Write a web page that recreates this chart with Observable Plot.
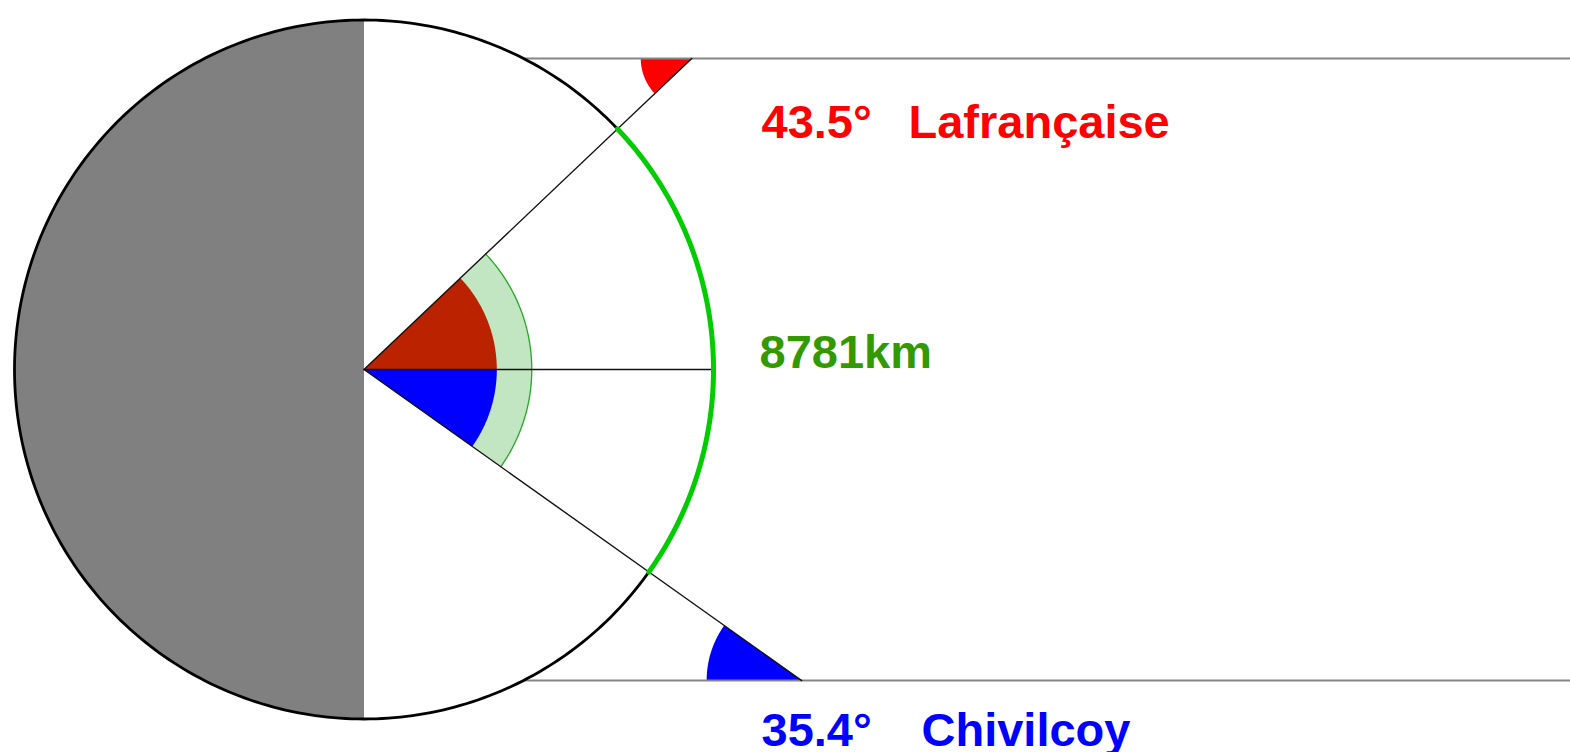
<!DOCTYPE html>
<html>
<head>
<meta charset="utf-8">
<script src="https://cdn.jsdelivr.net/npm/d3@7"></script>
<script src="https://cdn.jsdelivr.net/npm/@observablehq/plot@0.6"></script>
<style>
  html, body { margin: 0; padding: 0; background: #ffffff; }
  #chart svg { display: block; }
</style>
</head>
<body>
<div id="chart"></div>
<script>
// ---------- data ----------
const cities = ["Lafrançaise", "Chivilcoy"];
const latitudes = [43.5, 35.4];          // degrees
const hemispheres = [1, -1];             // +1 north, -1 south
const cityColors = ["#ff0000", "#0000ff"];
const wedgeColors = ["#bb2200", "#0000ff"];
const distanceKm = [8781];
const distanceColor = "#339900";

// ---------- layout ----------
const W = 1570, H = 752;
const R = 349.5, cx = 363.5, cy = 369;    // pixel centre / radius of the globe
const px = v => (v - cx) / R;             // pixel -> unit x
const py = v => (cy - v) / R;             // pixel -> unit y
const lineY = 0.89;                       // height of the parallel rays (unit)
const innerR = 0.38, ringR = 0.48;        // centre wedge + ring radii
const vertexR = [0.146, 0.272];           // small wedge radii at ray vertices
const degX = [761, 761], nameX = [908, 921];
const labelBase = [137, 745], distBase = 367, distX = 759;

const rad = d => d * Math.PI / 180;
function arc(x0, y0, r, a0, a1, n = 120) {
  const pts = [];
  for (let i = 0; i <= n; i++) {
    const a = rad(a0 + (a1 - a0) * i / n);
    pts.push({x: x0 + r * Math.cos(a), y: y0 + r * Math.sin(a)});
  }
  return pts;
}
function sector(x0, y0, r, a0, a1) {
  return [{x: x0, y: y0}, ...arc(x0, y0, r, a0, a1), {x: x0, y: y0}];
}

const signed = latitudes.map((l, i) => l * hemispheres[i]);
const vertices = signed.map((a, i) => ({
  x: lineY / Math.tan(rad(latitudes[i])),
  y: hemispheres[i] * lineY
}));
const xEdge = Math.sqrt(1 - lineY * lineY);
const xMax = px(W);

const grayHalf = [...arc(0, 0, 1, 90, 270), {x: 0, y: 1}];
const circle = arc(0, 0, 1, 0, 360, 360);
const ring = sector(0, 0, ringR, signed[1], signed[0]);
const ringOuter = arc(0, 0, ringR, signed[1], signed[0]);
const greenArc = arc(0, 0, 1, signed[1], signed[0]);

const marks = [];
// globe
marks.push(Plot.line(grayHalf, {x: "x", y: "y", fill: "#808080", stroke: "none", curve: "linear"}));
// ring + wedges at centre
marks.push(Plot.line(ring, {x: "x", y: "y", fill: "#c2e5c2", stroke: "none"}));
marks.push(Plot.line(ringOuter, {x: "x", y: "y", stroke: "#22aa22", strokeWidth: 1.3}));
signed.forEach((a, i) => {
  const s = i === 0 ? sector(0, 0, innerR, 0, a) : sector(0, 0, innerR, a, 0);
  marks.push(Plot.line(s, {x: "x", y: "y", fill: wedgeColors[i], stroke: "none"}));
});
// small wedges at ray vertices
vertices.forEach((v, i) => {
  const a0 = hemispheres[i] > 0 ? 180 : 180 - latitudes[i];
  const a1 = hemispheres[i] > 0 ? 180 + latitudes[i] : 180;
  marks.push(Plot.line(sector(v.x, v.y, vertexR[i], a0, a1), {x: "x", y: "y", fill: cityColors[i], stroke: "none"}));
});
// parallel rays
hemispheres.forEach(h => {
  marks.push(Plot.line([{x: xEdge, y: h * lineY}, {x: xMax, y: h * lineY}], {x: "x", y: "y", stroke: "#858585", strokeWidth: 2}));
});
// radial lines
vertices.forEach(v => {
  marks.push(Plot.line([{x: 0, y: 0}, v], {x: "x", y: "y", stroke: "#111", strokeWidth: 1.4}));
});
marks.push(Plot.line([{x: 0, y: 0}, {x: 1, y: 0}], {x: "x", y: "y", stroke: "#111", strokeWidth: 1.4}));
// circle outline + green arc
marks.push(Plot.line(circle, {x: "x", y: "y", stroke: "#000", strokeWidth: 2.8}));
marks.push(Plot.line(greenArc, {x: "x", y: "y", stroke: "#00cc00", strokeWidth: 5}));

// labels
const labelFont = {fontSize: 47, fontWeight: "bold", fontFamily: "Liberation Sans, Arial, sans-serif", textAnchor: "start", lineAnchor: "bottom"};
cities.forEach((c, i) => {
  marks.push(Plot.text([{x: px(degX[i]), y: py(labelBase[i]), t: `${latitudes[i]}°`}], {x: "x", y: "y", text: "t", fill: cityColors[i], ...labelFont}));
  marks.push(Plot.text([{x: px(nameX[i]), y: py(labelBase[i]), t: c}], {x: "x", y: "y", text: "t", fill: cityColors[i], ...labelFont}));
});
marks.push(Plot.text([{x: px(distX), y: py(distBase), t: `${distanceKm[0]}km`}], {x: "x", y: "y", text: "t", fill: distanceColor, ...labelFont}));

const chart = Plot.plot({
  width: W, height: H,
  margin: 0,
  style: {background: "#ffffff", overflow: "hidden"},
  x: {domain: [px(0), px(W)], range: [0, W], axis: null},
  y: {domain: [py(H), py(0)], range: [H, 0], axis: null},
  marks
});
document.getElementById("chart").appendChild(chart);
</script>
</body>
</html>
